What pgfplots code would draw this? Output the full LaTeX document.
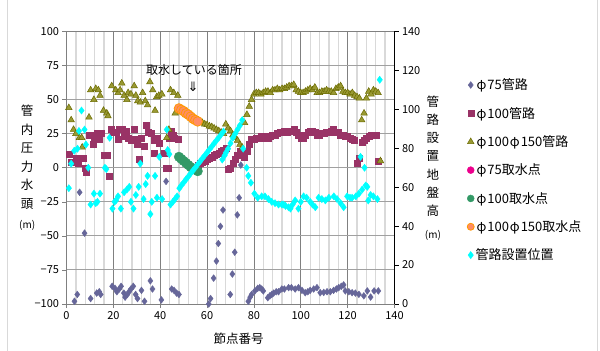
\documentclass[border=0pt]{standalone}
\usepackage{fontspec}
\setmainfont{Noto Sans CJK JP}
\newfontfamily\dejavu{DejaVu Sans}
\usepackage{pgfplots}
\pgfplotsset{compat=1.18}
\definecolor{c75}{HTML}{666699}
\definecolor{c100}{HTML}{993366}
\definecolor{c150f}{HTML}{999933}
\definecolor{c150d}{HTML}{6B6B00}
\definecolor{cgreen}{HTML}{339966}
\definecolor{corf}{HTML}{FF8C66}
\definecolor{cord}{HTML}{FF9900}
\definecolor{ccyan}{HTML}{00FFFF}
\definecolor{gmaj}{HTML}{808080}
\definecolor{gmin}{HTML}{D9D9D9}
\definecolor{gy}{HTML}{A0A0A0}
\newcommand\fsz{\fontsize{11bp}{13bp}\selectfont}
\newcommand\lsz{\fontsize{12.5bp}{14bp}\selectfont}
\newcommand\gsz{\fontsize{13bp}{14bp}\selectfont}
\newcommand\fphi{\makebox[0.9em][c]{φ}}
\newcommand\vstackL{\vbox{\baselineskip=18.5bp\lineskiplimit=-20bp\halign{\hfil##\hfil\cr 管\cr 内\cr 圧\cr 力\cr 水\cr 頭\cr\noalign{\vskip2bp}{\fontsize{10bp}{11bp}\selectfont(m)}\cr}}}
\newcommand\vstackR{\vbox{\baselineskip=18.3bp\lineskiplimit=-20bp\halign{\hfil##\hfil\cr 管\cr 路\cr 設\cr 置\cr 地\cr 盤\cr 高\cr\noalign{\vskip4bp}{\fontsize{10bp}{11bp}\selectfont(m)}\cr}}}
\pgfplotsset{pt/.style={only marks, legend image code/.code={\draw[mark repeat=2,mark phase=2,##1] plot coordinates {(0bp,0bp)(6bp,0bp)(12bp,0bp)};}}}
\begin{document}
\begin{tikzpicture}
\path[use as bounding box] (0,0) rectangle (600bp,351bp);
\draw[gmin, line width=0.8bp] (7bp,0) -- (7bp,351bp);
\draw[gmin, line width=0.8bp] (597bp,0) -- (597bp,351bp);
\begin{axis}[
  at={(66.5bp,47bp)}, anchor=south west,
  width=328bp, height=272.5bp, scale only axis,
  xmin=0, xmax=140, ymin=-100, ymax=100,
  xtick={0,20,...,140}, minor x tick num=4,
  ytick={-100,-75,...,100},
  yticklabels={−100,−75,−50,−25,0,25,50,75,100},
  /pgf/number format/assume math mode=true,
  xtick pos=bottom, ytick pos=left,
  tick align=outside, major tick length=4bp, minor tick length=0bp,
  tick style={gmaj, line width=0.6bp},
  xmajorgrids, xminorgrids, ymajorgrids,
  major grid style={gmaj, line width=0.6bp},
  minor grid style={gmin, line width=1.3bp},
  y grid style={gy, line width=1bp},
  axis line style={gmaj, line width=0.8bp},
  tick label style={font=\fsz},
  xlabel={節点番号}, xlabel style={font=\lsz, at={(axis description cs:0.525,-0.095)}, anchor=north},
  ylabel={\vstackL}, ylabel style={font=\lsz, rotate=-90, at={(axis description cs:-0.12,0.5)}, anchor=center},
  clip=false,
]
\addplot[pt, mark=diamond*, mark size=3.4bp, color=c75] coordinates {
(3.4,-98)(4.6,-93)(5.6,-18)(7.7,-48)(10.3,-96)(12.9,-92)(14,-91)(14.6,-93)(19.5,-87)(20.7,-88.5)(21.5,-91)(22.5,-89)(23.3,-87)(24.5,-92)(25,-95)(26,-93)(26.7,-91)(27.5,-89)(28.5,-87)(29.5,-93)(30.3,-96)(32,-90)(33.3,-98)(35.8,-83)(36.7,-89)(40.5,-97)(42.5,-10)(44.9,-89)(45.9,-90)(47,-92)(48,-93)(60.7,-100)(61.5,-96)(62.8,-81)(64,-68.5)(64.8,-55.6)(65.7,-43)(66.8,-31)(69.9,-93)(70.8,-78)(71.8,-62)(72.9,-34.6)(73.7,-22)(74.4,2)(77.6,-98)(78.4,-95)(79,-93)(80.4,-90.4)(81.6,-88.5)(82.5,-88)(83.3,-89)(84,-90.4)(85.9,-95.4)(86.8,-94)(87.6,-93)(88.4,-92)(89.5,-91)(90.5,-91)(91.9,-89)(93,-89)(94.8,-88)(96,-88)(97.6,-89)(99,-88)(100.5,-90)(101.9,-91.7)(103,-91)(104,-90)(105.5,-89)(106.9,-88)(108.3,-91.7)(109.8,-91.5)(111.2,-91)(112.6,-91)(114,-90)(115.2,-89)(116.2,-88)(117.3,-87)(118.3,-86)(119,-90.4)(120.5,-91)(121.9,-91.7)(123.3,-92)(124.8,-92.9)(126.9,-94)(128.4,-90.4)(129.8,-94.9)(131.3,-90.4)(133.1,-90.4)
};
\addplot[pt, mark=square*, mark size=3bp, color=c100] coordinates {
(1,10)(2,4)(4,7)(5,3)(7,7)(8,0)(8.5,-3)(9.7,24)(11,24)(11.4,17)(12,21)(13,25)(14,21)(15,25)(16.2,9)(17.2,9)(18.3,-6)(19,28)(20,26)(21.2,26)(21.9,21)(22.6,28)(23.9,28)(24.6,23)(25.5,27)(26.5,22)(27.5,20)(28.9,28)(29.5,21)(30.3,17)(31,6)(31.8,22)(33.2,16)(33.9,31)(35,26)(36.1,25)(37.5,20)(37.5,11)(38.9,22)(39.5,18)(41.8,11)(42.5,0)(43.3,0)(44,22)(44.7,27)(45.5,24)(46.1,22)(47.5,21)
(56,2)(57,3)(58,4)(59,5)(60,6)(61,7)(62,8)(63,9)(64,10)(65,11)(66,12)(67,13)(68,14)
(69,-1)(70,0)(71,3)(72,6)(73,9)(74,12)(75,10)(76,8)(77,12)(78,17)(79,21)
(80,21)(81,22)(82,22)(83,23)(84,23)(85,22)(86,22)(87,23)(88,24)(89,24)(90,25)(91,26)(92,26)(93,27)(94,26)(95,27)(96,27)(97,28)(98,26)(99,24)(100,22)(101,22)(102,24)(103,26)(104,27)(105,27)(106,26)(107,24)(108,24)(109,25)(110,25)(111,26)(112,26)(113,27)(114,28)(115,26)(116,26)(117,24)(118,24)(119,23)(120,23)(121,22)(122,21)(123,20)(124,3)(125,7)(126,19)(127,20)(128,22)(129,23)(130,24)(131,24)(132,24)(133,5)
};
\addplot[pt, mark=triangle*, mark size=3.8bp, mark options={fill=c150f, draw=c150d, line width=0.5bp}] coordinates {
(1,44)(2,35)(3,28)(4,25)(5.5,22)(6.5,22)(6.7,15)(9.6,37)(10.3,57)(11.7,50)(12.5,58)(13.6,57)(14.3,53)(15.8,42)(17.2,40)(17.7,38)(19.3,60)(21,57)(22,55)(22.9,57)(23.6,62)(24.6,53)(25.8,50)(26.3,55)(27.5,54)(28.9,60)(29.6,53)(30.4,49)(31.5,48)(32.5,55)(33.6,49)(34.6,46)(35.6,63)(36.8,57)(37.8,42)(38.5,52)(39.4,53)(40.7,54)(42.8,22)(43.7,28)(44.4,57)(45.8,55)(46.4,40)(47.5,53)
(58,33)(59,32)(60,31.5)(61,30.5)(62,30)(63,29)(64,28)(65,27)(66,26)(67,25)(68,32)(69,29)(70,27)(71,24)(72,22)(73,20)(74,17)(75,15)(76,33)(77,39)(78,45)(79,50)(80,54)(81,55)(82,55)(83,54)(84,55)(85,56)(86,56)(87,55)(88,57)(89,57)(90,58)(91,57)(92,58)(93,58)(94,59)(95,60)(96,60)(97,61)(98,57)(99,56)(100,55)(101,55)(102,56)(103,57)(104,58)(105,57)(106,59)(107,55)(108,55)(109,56)(110,56)(111,57)(112,56)(113,56)(114,55)(115,58)(116,59)(117,60)(118,56)(119,55)(120,55)(121,54)(122,55)(123,53)(124,52)(125,51)(126,35)(127,40)(128,51)(129,56)(130,54)(131,57)(132,56)(133,55)(134,5)
};
\addplot[pt, mark=*, mark size=4.8bp, color=cgreen] coordinates {
(48,8)(49,6.5)(50,5)(51,3.5)(52,2)(53,0.5)(54,-0.5)(55,-1.5)(56,-2.5)
};
\addplot[pt, mark=*, mark size=4.8bp, mark options={fill=corf, draw=cord, line width=0.8bp}] coordinates {
(48,43.5)(49,42.5)(50,41.5)(51,40)(52,39)(53,37.5)(54,36)(55,35)(56,34)
};
\node[font=\fontsize{12bp}{14bp}\selectfont] at (axis cs:54.4,71.5) {取水している箇所};
\node[font=\dejavu\fontsize{13bp}{14bp}\selectfont] at (axis cs:54,59.5) {⇓};
\end{axis}
\begin{axis}[
  at={(66.5bp,47bp)}, anchor=south west,
  width=328bp, height=272.5bp, scale only axis,
  xmin=0, xmax=140, ymin=0, ymax=140,
  axis x line=none, axis y line*=right,
  ytick={0,20,...,140},
  /pgf/number format/assume math mode=true,
  tick align=outside, major tick length=4bp,
  tick style={black, line width=0.6bp},
  axis line style={black, line width=0.8bp},
  tick label style={font=\fsz},
  ylabel={\vstackR}, ylabel style={font=\lsz, rotate=-90, at={(axis description cs:1.117,0.5)}, anchor=center},
  clip=false,
  legend style={at={(axis description cs:1.212,0.84)}, anchor=north west, draw=none, fill=none, font=\gsz, row sep=12.9bp, nodes={inner sep=1.5bp}},
  legend cell align=left,
]
\addlegendimage{pt, mark=diamond*, mark size=3.4bp, color=c75}
\addlegendentry{\fphi 75管路}
\addlegendimage{pt, mark=square*, mark size=3bp, color=c100}
\addlegendentry{\fphi 100管路}
\addlegendimage{pt, mark=triangle*, mark size=3.8bp, mark options={fill=c150f, draw=c150d, line width=0.5bp}}
\addlegendentry{\fphi 100\fphi 150管路}
\addlegendimage{pt, mark=*, mark size=3.5bp, color=magenta}
\addlegendentry{\fphi 75取水点}
\addlegendimage{pt, mark=*, mark size=3.5bp, color=cgreen}
\addlegendentry{\fphi 100取水点}
\addlegendimage{pt, mark=*, mark size=3.5bp, mark options={fill=corf, draw=cord, line width=0.8bp}}
\addlegendentry{\fphi 100\fphi 150取水点}
\addplot[pt, mark=diamond*, mark size=3.6bp, color=ccyan] coordinates {
(1,59.5)(2,72.1)(3.3,78.75)(4.7,79.8)(5.3,88.9)(6.4,99.4)(7.7,89.6)(8.3,81.9)(9.3,70)(10.3,51.1)(11.7,56.7)(12.5,51.8)(13.2,52.5)(14.3,56.7)(16.4,70)(17,69.3)(18.4,85.4)(19.6,49)(20.5,52.5)(21.1,53.2)(22,55.3)(23.2,49)(24.6,57.4)(25.8,58.8)(26.8,60.2)(27.5,52.5)(28.6,49)(29.6,56)(30.8,60.2)(31.5,72.1)(32.9,53.9)(33.8,61.6)(34.6,65.8)(35.8,46.2)(36.4,52.5)(37.8,65.8)(38.6,54.6)(39.6,75.6)(40.8,53.9)(42.8,89.6)(43.2,79.1)(43.9,77)(44.4,51.1)(45.4,52.5)(46.3,53.9)(47.2,55.3)(48.2,59.5)
(49,60.9)(50,62.4)(51,64.0)(52,65.5)(53,67.1)(54,68.6)(55,70.1)(56,71.7)(57,73.2)(58,74.8)(59,76.3)(60,77.8)(61,79.4)(62,80.9)(63,82.5)(64,84.0)(65,85.5)(66,87.1)(67,88.6)
(66.5,74.2)(67.5,76.3)(68,77.7)(69,79.8)(70,82.6)(71,85.4)(72,87.5)(73,89.6)(74,91.7)(75,94.5)
(75.4,79.8)(76.9,70)(77.6,65.8)(78.7,62.3)(80.2,56.7)(81.6,54.6)(83.3,55.3)(84.7,55.3)(86.2,53.9)(87.6,52.5)(89,51.8)(90.5,51.1)(91.9,51.1)(92.6,51.1)(93.5,50.4)(94.8,49.7)(95.6,49)(96.5,51.1)(97.6,53.2)(99,49)(100,52.5)(101.2,55.3)(102.5,54.6)(104,52.5)(105,51.1)(106.2,49.7)(107.6,54.6)(109,53.9)(110.5,53.2)(112,54.6)(114.1,55.3)(115.5,53.9)(117,51.8)(118.3,49.7)(119.8,55.3)(121,54.6)(121.9,54.6)(123.5,55.3)(124.8,56.7)(126.2,58.8)(127.7,60.9)(128.8,53.2)(129.8,56)(131,55.3)(132.7,53.9)(125.5,75.6)(127.2,70)(128.4,60.2)(133.7,115.2)
};
\addlegendentry{管路設置位置}
\end{axis}
\end{tikzpicture}
\end{document}
